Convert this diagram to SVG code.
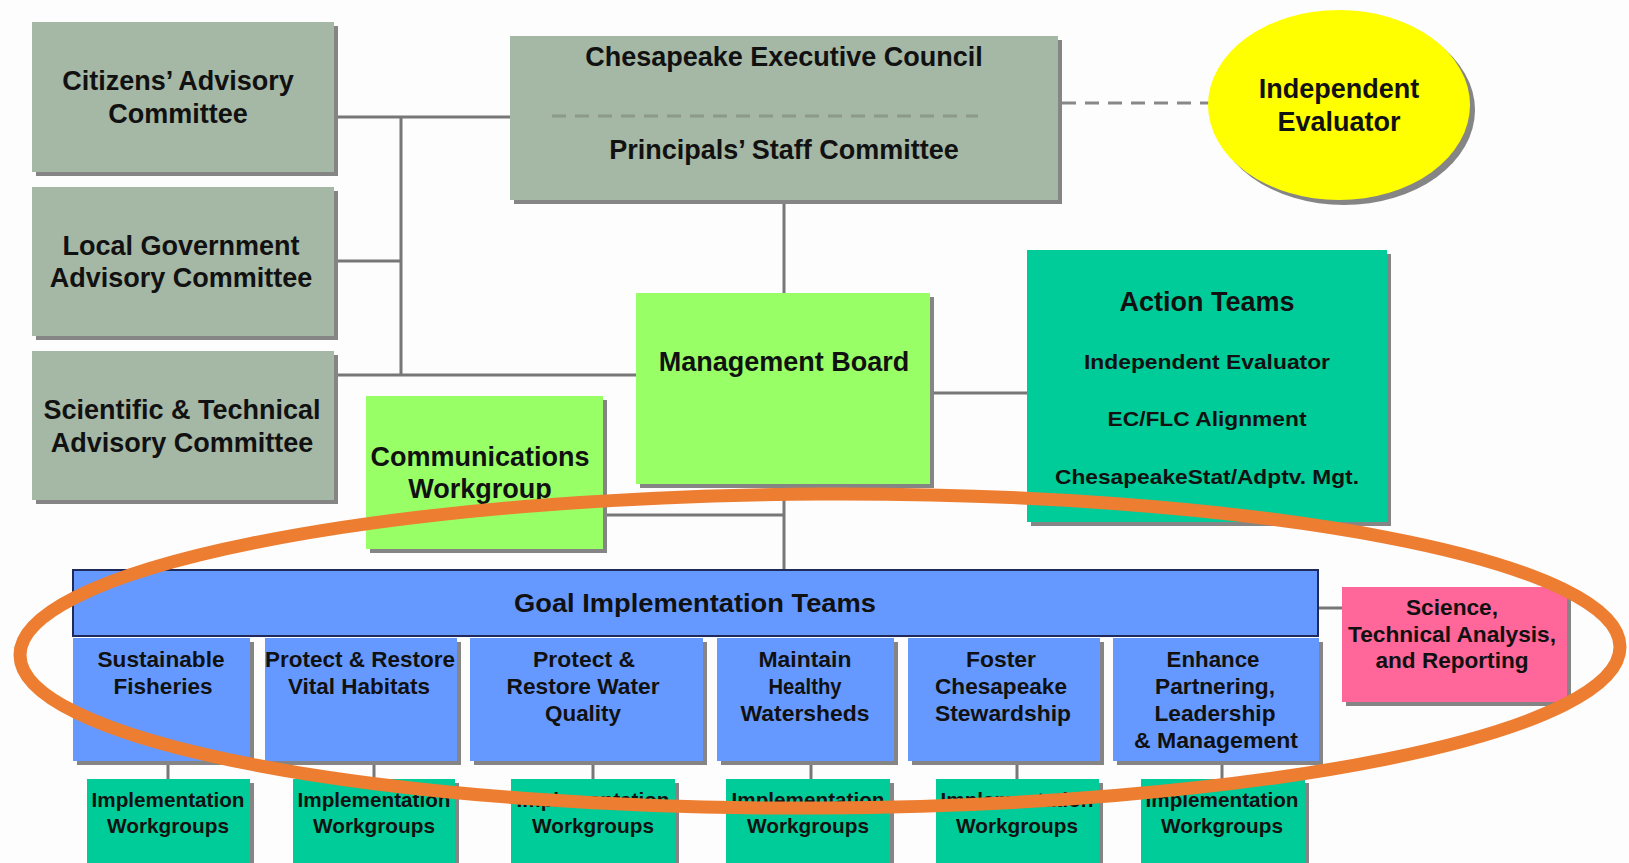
<svg xmlns="http://www.w3.org/2000/svg" width="1629" height="863" viewBox="0 0 1629 863">
<style>
.bg{fill:#FDFDFD}
.sh{fill:#858585}
.gray{fill:#A5B7A5}
.lg{fill:#99FF66}
.teal{fill:#00CC99}
.blue{fill:#6699FF}
.pink{fill:#FF6699}
.yel{fill:#FFFF00}
.t{font-family:"Liberation Sans",Arial,sans-serif;font-weight:bold;fill:#111;text-anchor:middle}
.t27{font-size:27px}
.t22{font-size:22px}
.t20{font-size:20.5px}
.conn{stroke:#777;stroke-width:3;fill:none}
.dash{stroke:#888;stroke-width:3;fill:none;stroke-dasharray:14 9}
</style>
<rect class="bg" x="0" y="0" width="1629" height="863"/>

<g id="connectors">
  <path class="conn" d="M334 117 H510"/>
  <path class="conn" d="M401 117 V375"/>
  <path class="conn" d="M334 261 H401"/>
  <path class="conn" d="M334 375 H636"/>
  <path class="conn" d="M784 200 V293"/>
  <path class="dash" d="M1062 103 H1210"/>
  <path class="conn" d="M930 393 H1027"/>
  <path class="conn" d="M784 484 V569"/>
  <path class="conn" d="M603 515 H784"/>
  <path class="conn" d="M1318 608 H1342"/>
  <path class="conn" d="M168 762 V779"/>
  <path class="conn" d="M374 762 V779"/>
  <path class="conn" d="M593 762 V779"/>
  <path class="conn" d="M811 762 V779"/>
  <path class="conn" d="M1017 762 V779"/>
  <path class="conn" d="M1222 762 V779"/>
</g>

<g id="citizens">
  <rect class="sh" x="36" y="26" width="302" height="150"/>
  <rect class="gray" x="32" y="22" width="302" height="150"/>
  <text class="t t27" x="178" y="90">Citizens’ Advisory</text>
  <text class="t t27" x="178" y="123">Committee</text>
</g>
<g id="localgov">
  <rect class="sh" x="36" y="191" width="302" height="149"/>
  <rect class="gray" x="32" y="187" width="302" height="149"/>
  <text class="t t27" x="181" y="255">Local Government</text>
  <text class="t t27" x="181" y="287">Advisory Committee</text>
</g>
<g id="stac">
  <rect class="sh" x="36" y="355" width="302" height="149"/>
  <rect class="gray" x="32" y="351" width="302" height="149"/>
  <text class="t t27" x="182" y="419">Scientific &amp; Technical</text>
  <text class="t t27" x="182" y="452">Advisory Committee</text>
</g>

<g id="exec">
  <rect class="sh" x="514" y="40" width="548" height="164"/>
  <rect class="gray" x="510" y="36" width="548" height="164"/>
  <text class="t t27" x="784" y="66">Chesapeake Executive Council</text>
  <path class="dash" d="M552 116 H978" style="stroke:#8C9A8C;stroke-dasharray:14 9"/>
  <text class="t t27" x="784" y="159">Principals’ Staff Committee</text>
</g>

<g id="evaluator">
  <ellipse class="sh" cx="1344" cy="110" rx="131" ry="95"/>
  <ellipse class="yel" cx="1339" cy="105" rx="131" ry="95"/>
  <text class="t t27" x="1339" y="98">Independent</text>
  <text class="t t27" x="1339" y="131">Evaluator</text>
</g>

<g id="mb">
  <rect class="sh" x="640" y="297" width="294" height="191"/>
  <rect class="lg" x="636" y="293" width="294" height="191"/>
  <text class="t t27" x="784" y="371">Management Board</text>
</g>

<g id="action">
  <rect class="sh" x="1031" y="254" width="360" height="272"/>
  <rect class="teal" x="1027" y="250" width="360" height="272"/>
  <text class="t t27" x="1207" y="311">Action Teams</text>
  <text class="t" style="font-size:21px" x="1207" y="369" textLength="246" lengthAdjust="spacingAndGlyphs">Independent Evaluator</text>
  <text class="t" style="font-size:21px" x="1207" y="426" textLength="199" lengthAdjust="spacingAndGlyphs">EC/FLC Alignment</text>
  <text class="t" style="font-size:21px" x="1207" y="484" textLength="304" lengthAdjust="spacingAndGlyphs">ChesapeakeStat/Adptv. Mgt.</text>
</g>

<g id="comm">
  <rect class="sh" x="370" y="400" width="237" height="153"/>
  <rect class="lg" x="366" y="396" width="237" height="153"/>
  <text class="t t27" x="480" y="466">Communications</text>
  <text class="t t27" x="480" y="498">Workgroup</text>
</g>

<g id="git">
  <rect class="blue" x="73" y="570" width="1245" height="66" stroke="#1F2A5A" stroke-width="2"/>
  <text class="t" style="font-size:26px" x="695" y="612" textLength="362" lengthAdjust="spacingAndGlyphs">Goal Implementation Teams</text>
</g>

<g id="science">
  <rect class="sh" x="1346" y="591" width="225" height="115"/>
  <rect class="pink" x="1342" y="587" width="225" height="115"/>
  <text class="t t22" x="1452" y="615" textLength="92" lengthAdjust="spacingAndGlyphs">Science,</text>
  <text class="t t22" x="1452" y="642" textLength="208" lengthAdjust="spacingAndGlyphs">Technical Analysis,</text>
  <text class="t t22" x="1452" y="668" textLength="153" lengthAdjust="spacingAndGlyphs">and Reporting</text>
</g>

<g id="gt1">
  <rect class="sh" x="77" y="642" width="177" height="123"/>
  <rect class="blue" x="73" y="638" width="177" height="123"/>
  <text class="t t22" x="161" y="667" textLength="127" lengthAdjust="spacingAndGlyphs">Sustainable</text>
  <text class="t t22" x="163" y="694" textLength="99" lengthAdjust="spacingAndGlyphs">Fisheries</text>
</g>
<g id="gt2">
  <rect class="sh" x="269" y="642" width="192" height="123"/>
  <rect class="blue" x="265" y="638" width="192" height="123"/>
  <text class="t t22" x="360" y="667" textLength="190" lengthAdjust="spacingAndGlyphs">Protect &amp; Restore</text>
  <text class="t t22" x="359" y="694" textLength="142" lengthAdjust="spacingAndGlyphs">Vital Habitats</text>
</g>
<g id="gt3">
  <rect class="sh" x="474" y="642" width="233" height="123"/>
  <rect class="blue" x="470" y="638" width="233" height="123"/>
  <text class="t t22" x="584" y="667" textLength="102" lengthAdjust="spacingAndGlyphs">Protect &amp;</text>
  <text class="t t22" x="583" y="694" textLength="153" lengthAdjust="spacingAndGlyphs">Restore Water</text>
  <text class="t t22" x="583" y="721" textLength="76" lengthAdjust="spacingAndGlyphs">Quality</text>
</g>
<g id="gt4">
  <rect class="sh" x="721" y="642" width="177" height="123"/>
  <rect class="blue" x="717" y="638" width="177" height="123"/>
  <text class="t t22" x="805" y="667" textLength="93" lengthAdjust="spacingAndGlyphs">Maintain</text>
  <text class="t t22" x="805" y="694" textLength="73" lengthAdjust="spacingAndGlyphs">Healthy</text>
  <text class="t t22" x="805" y="721" textLength="129" lengthAdjust="spacingAndGlyphs">Watersheds</text>
</g>
<g id="gt5">
  <rect class="sh" x="912" y="642" width="192" height="123"/>
  <rect class="blue" x="908" y="638" width="192" height="123"/>
  <text class="t t22" x="1001" y="667" textLength="70" lengthAdjust="spacingAndGlyphs">Foster</text>
  <text class="t t22" x="1001" y="694" textLength="132" lengthAdjust="spacingAndGlyphs">Chesapeake</text>
  <text class="t t22" x="1003" y="721" textLength="136" lengthAdjust="spacingAndGlyphs">Stewardship</text>
</g>
<g id="gt6">
  <rect class="sh" x="1117" y="642" width="206" height="123"/>
  <rect class="blue" x="1113" y="638" width="206" height="123"/>
  <text class="t t22" x="1213" y="667" textLength="93" lengthAdjust="spacingAndGlyphs">Enhance</text>
  <text class="t t22" x="1215" y="694" textLength="120" lengthAdjust="spacingAndGlyphs">Partnering,</text>
  <text class="t t22" x="1215" y="721" textLength="121" lengthAdjust="spacingAndGlyphs">Leadership</text>
  <text class="t t22" x="1216" y="748" textLength="164" lengthAdjust="spacingAndGlyphs">&amp; Management</text>
</g>

<g id="iw1">
  <rect class="sh" x="91" y="783" width="163" height="90"/>
  <rect class="teal" x="87" y="779" width="163" height="90"/>
  <text class="t t20" x="168" y="807" textLength="153" lengthAdjust="spacingAndGlyphs">Implementation</text>
  <text class="t t20" x="168" y="833" textLength="122" lengthAdjust="spacingAndGlyphs">Workgroups</text>
</g>
<g id="iw2">
  <rect class="sh" x="297" y="783" width="162" height="90"/>
  <rect class="teal" x="293" y="779" width="162" height="90"/>
  <text class="t t20" x="374" y="807" textLength="153" lengthAdjust="spacingAndGlyphs">Implementation</text>
  <text class="t t20" x="374" y="833" textLength="122" lengthAdjust="spacingAndGlyphs">Workgroups</text>
</g>
<g id="iw3">
  <rect class="sh" x="515" y="783" width="164" height="90"/>
  <rect class="teal" x="511" y="779" width="164" height="90"/>
  <text class="t t20" x="593" y="807" textLength="153" lengthAdjust="spacingAndGlyphs">Implementation</text>
  <text class="t t20" x="593" y="833" textLength="122" lengthAdjust="spacingAndGlyphs">Workgroups</text>
</g>
<g id="iw4">
  <rect class="sh" x="730" y="783" width="164" height="90"/>
  <rect class="teal" x="726" y="779" width="164" height="90"/>
  <text class="t t20" x="808" y="807" textLength="153" lengthAdjust="spacingAndGlyphs">Implementation</text>
  <text class="t t20" x="808" y="833" textLength="122" lengthAdjust="spacingAndGlyphs">Workgroups</text>
</g>
<g id="iw5">
  <rect class="sh" x="940" y="783" width="163" height="90"/>
  <rect class="teal" x="936" y="779" width="163" height="90"/>
  <text class="t t20" x="1017" y="807" textLength="153" lengthAdjust="spacingAndGlyphs">Implementation</text>
  <text class="t t20" x="1017" y="833" textLength="122" lengthAdjust="spacingAndGlyphs">Workgroups</text>
</g>
<g id="iw6">
  <rect class="sh" x="1145" y="783" width="164" height="90"/>
  <rect class="teal" x="1141" y="779" width="164" height="90"/>
  <text class="t t20" x="1222" y="807" textLength="153" lengthAdjust="spacingAndGlyphs">Implementation</text>
  <text class="t t20" x="1222" y="833" textLength="122" lengthAdjust="spacingAndGlyphs">Workgroups</text>
</g>

<g id="highlight">
  <ellipse cx="820" cy="651" rx="800" ry="157" transform="rotate(-0.3 820 651)" fill="none" stroke="#ED7D31" stroke-width="13"/>
</g>
</svg>
